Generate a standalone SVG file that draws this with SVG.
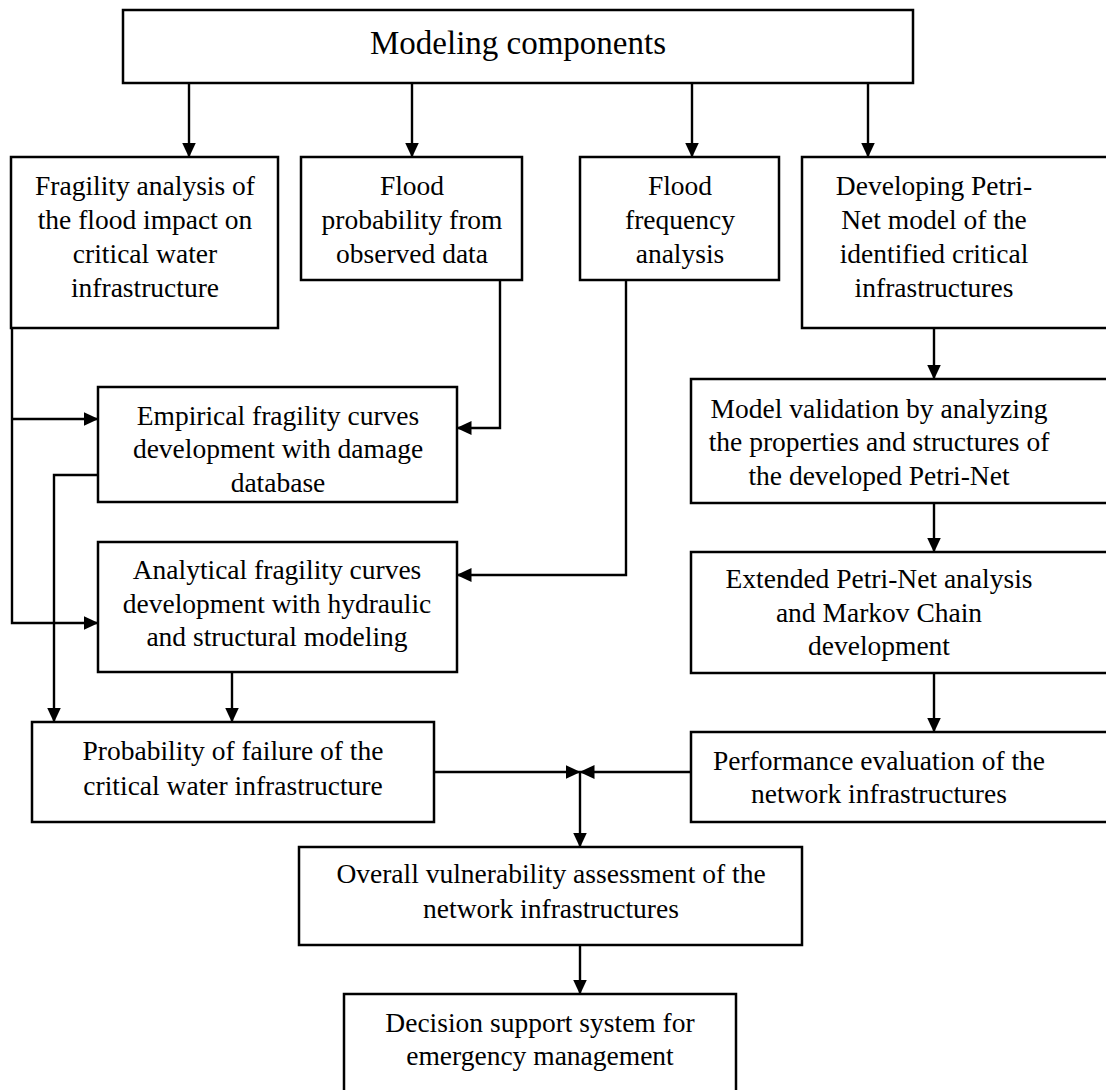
<svg xmlns="http://www.w3.org/2000/svg" width="1106" height="1090" viewBox="0 0 1106 1090">
  <style>
    .box { fill: #ffffff; stroke: #000000; stroke-width: 2.5; }
    text { font-size: 27.5px; fill: #000000; text-anchor: middle; }
    .ttl { font-size: 33px; }
    .wire { fill: none; stroke: #000000; stroke-width: 2.4; marker-end: url(#head); }
  </style>
  <defs>
    <marker id="head" markerUnits="userSpaceOnUse" markerWidth="15" markerHeight="14" refX="14.5" refY="7" orient="auto">
      <path d="M0,0 L15,7 L0,14 Z" fill="#000000"/>
    </marker>
  </defs>
  <rect width="1106" height="1090" fill="#ffffff"/>

  <!-- connectors -->
  <g id="connectors">
    <path class="wire" d="M189,83 V157"/>
    <path class="wire" d="M412,83 V157"/>
    <path class="wire" d="M692,83 V157"/>
    <path class="wire" d="M868,83 V157"/>
    <path class="wire" d="M12,328 V623 H98"/>
    <path class="wire" d="M12,419 H98"/>
    <path class="wire" d="M500,280 V428 H457"/>
    <path class="wire" d="M626,280 V575 H457"/>
    <path class="wire" d="M98,475 H54 V722"/>
    <path class="wire" d="M232,672 V722"/>
    <path class="wire" d="M934,328 V379"/>
    <path class="wire" d="M934,503 V552"/>
    <path class="wire" d="M934,673 V732"/>
    <path class="wire" d="M434,772 H580"/>
    <path class="wire" d="M691,772 H580"/>
    <path class="wire" d="M580,772 V847"/>
    <path class="wire" d="M580,945 V994"/>
  </g>

  <g font-family="Liberation Serif, Times New Roman, Times, serif">
  <g id="modeling-components">
    <rect class="box" x="123" y="10" width="790" height="73"/>
    <text class="ttl" x="518" y="54">Modeling components</text>
  </g>

  <g id="fragility-analysis">
    <rect class="box" x="11" y="157" width="267" height="171"/>
    <text><tspan x="145" y="195">Fragility analysis of</tspan><tspan x="145" y="229">the flood impact on</tspan><tspan x="145" y="263">critical water</tspan><tspan x="145" y="297">infrastructure</tspan></text>
  </g>

  <g id="flood-probability">
    <rect class="box" x="301" y="157" width="221" height="123"/>
    <text><tspan x="412" y="195">Flood</tspan><tspan x="412" y="229">probability from</tspan><tspan x="412" y="263">observed data</tspan></text>
  </g>

  <g id="flood-frequency">
    <rect class="box" x="580" y="157" width="199" height="123"/>
    <text><tspan x="680" y="195">Flood</tspan><tspan x="680" y="229">frequency</tspan><tspan x="680" y="263">analysis</tspan></text>
  </g>

  <g id="petri-net-model">
    <rect class="box" x="802" y="157" width="320" height="171"/>
    <text><tspan x="934" y="195">Developing Petri-</tspan><tspan x="934" y="229">Net model of the</tspan><tspan x="934" y="263">identified critical</tspan><tspan x="934" y="297">infrastructures</tspan></text>
  </g>

  <g id="empirical-curves">
    <rect class="box" x="98" y="387" width="359" height="115"/>
    <text><tspan x="278" y="425">Empirical fragility curves</tspan><tspan x="278" y="458">development with damage</tspan><tspan x="278" y="492">database</tspan></text>
  </g>

  <g id="analytical-curves">
    <rect class="box" x="98" y="542" width="359" height="130"/>
    <text><tspan x="277" y="579">Analytical fragility curves</tspan><tspan x="277" y="613">development with hydraulic</tspan><tspan x="277" y="646">and structural modeling</tspan></text>
  </g>

  <g id="model-validation">
    <rect class="box" x="691" y="379" width="430" height="124"/>
    <text><tspan x="879" y="418">Model validation by analyzing</tspan><tspan x="879" y="451">the properties and structures of</tspan><tspan x="879" y="485">the developed Petri-Net</tspan></text>
  </g>

  <g id="extended-petri-net">
    <rect class="box" x="691" y="552" width="430" height="121"/>
    <text><tspan x="879" y="588">Extended Petri-Net analysis</tspan><tspan x="879" y="622">and Markov Chain</tspan><tspan x="879" y="655">development</tspan></text>
  </g>

  <g id="failure-probability">
    <rect class="box" x="32" y="722" width="402" height="100"/>
    <text><tspan x="233" y="760">Probability of failure of the</tspan><tspan x="233" y="795">critical water infrastructure</tspan></text>
  </g>

  <g id="performance-evaluation">
    <rect class="box" x="691" y="732" width="430" height="90"/>
    <text><tspan x="879" y="770">Performance evaluation of the</tspan><tspan x="879" y="803">network infrastructures</tspan></text>
  </g>

  <g id="vulnerability-assessment">
    <rect class="box" x="299" y="847" width="503" height="98"/>
    <text><tspan x="551" y="883">Overall vulnerability assessment of the</tspan><tspan x="551" y="918">network infrastructures</tspan></text>
  </g>

  <g id="decision-support">
    <rect class="box" x="344" y="994" width="392" height="120"/>
    <text><tspan x="540" y="1032">Decision support system for</tspan><tspan x="540" y="1065">emergency management</tspan></text>
  </g>
  </g>
</svg>
